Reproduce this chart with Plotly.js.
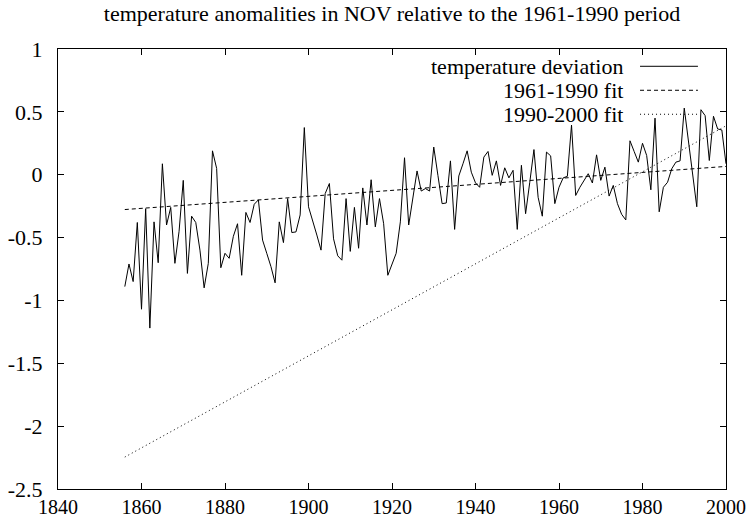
<!DOCTYPE html>
<html>
<head>
<meta charset="utf-8">
<script src="https://cdn.plot.ly/plotly-3.0.1.min.js"></script>
<style>html,body{margin:0;padding:0;background:#fff;}#chart{width:749px;height:519px;}</style>
</head>
<body>
<div id="chart"></div>
<script>
const years = [1856,1857,1858,1859,1860,1861,1862,1863,1864,1865,1866,1867,1868,1869,1870,1871,1872,1873,1874,1875,1876,1877,1878,1879,1880,1881,1882,1883,1884,1885,1886,1887,1888,1889,1890,1891,1892,1893,1894,1895,1896,1897,1898,1899,1900,1901,1902,1903,1904,1905,1906,1907,1908,1909,1910,1911,1912,1913,1914,1915,1916,1917,1918,1919,1920,1921,1922,1923,1924,1925,1926,1927,1928,1929,1930,1931,1932,1933,1934,1935,1936,1937,1938,1939,1940,1941,1942,1943,1944,1945,1946,1947,1948,1949,1950,1951,1952,1953,1954,1955,1956,1957,1958,1959,1960,1961,1962,1963,1964,1965,1966,1967,1968,1969,1970,1971,1972,1973,1974,1975,1976,1977,1978,1979,1980,1981,1982,1983,1984,1985,1986,1987,1988,1989,1990,1991,1992,1993,1994,1995,1996,1997,1998,1999,2000];
const deviation = [-0.89,-0.71,-0.85,-0.38,-1.07,-0.27,-1.22,-0.375,-0.70,0.087,-0.40,-0.26,-0.705,-0.45,-0.045,-0.785,-0.33,-0.38,-0.60,-0.90,-0.705,0.19,0.05,-0.74,-0.625,-0.665,-0.49,-0.39,-0.80,-0.30,-0.38,-0.235,-0.20,-0.52,-0.625,-0.73,-0.86,-0.375,-0.54,-0.19,-0.46,-0.455,-0.32,0.375,-0.255,-0.36,-0.48,-0.60,-0.15,-0.07,-0.51,-0.645,-0.68,-0.19,-0.61,-0.26,-0.585,-0.105,-0.40,-0.04,-0.415,-0.19,-0.39,-0.80,-0.71,-0.625,-0.375,0.135,-0.40,-0.18,0.03,-0.13,-0.11,-0.13,0.22,-0.005,-0.23,-0.225,0.11,-0.435,-0.01,0.087,0.19,0.02,-0.065,-0.10,0.14,0.185,-0.005,0.11,-0.085,0.055,-0.025,0.035,-0.435,0.075,-0.31,-0.06,0.20,-0.18,-0.33,0.18,0.15,-0.23,-0.10,-0.025,-0.013,0.395,-0.165,-0.10,-0.045,0.008,-0.066,0.158,-0.045,0.06,-0.17,-0.085,-0.23,-0.315,-0.36,0.27,0.185,0.10,0.25,0.153,-0.12,0.45,-0.295,-0.10,-0.06,0.047,0.10,0.11,0.53,0.27,0.008,-0.255,0.517,0.47,0.113,0.465,0.364,0.356,0.087];
const fitYears = [1856, 2000];
const fit6190 = [-0.277, 0.066];
const fit9000 = [-2.246, 0.389];
const xTicks = [1840,1860,1880,1900,1920,1940,1960,1980,2000];
const yTicks = [1,0.5,0,-0.5,-1,-1.5,-2,-2.5];
const yTickText = ['1','0.5','0','-0.5','-1','-1.5','-2','-2.5'];
const legendNames = ['temperature deviation','1961-1990 fit','1990-2000 fit'];
const titleText = 'temperature anomalities in NOV relative to the 1961-1990 period';

const FONT = '"Liberation Serif", "Times New Roman", serif';
const dashes = ['solid','4px,3px','1px,3px'];

const traces = [
  {x: years, y: deviation, mode:'lines', line:{color:'#000', width:1}, name: legendNames[0]},
  {x: fitYears, y: fit6190, mode:'lines', line:{color:'#000', width:1, dash:dashes[1]}, name: legendNames[1]},
  {x: fitYears, y: fit9000, mode:'lines', line:{color:'#000', width:1, dash:dashes[2]}, name: legendNames[2]}
];

const rowsY = [0.9607, 0.9062, 0.8517];
const annotations = legendNames.map((n,i)=>({
  text:n, xref:'paper', yref:'paper', x:0.8488, y:rowsY[i], xanchor:'right', yanchor:'middle',
  showarrow:false, font:{family:FONT, size:22, color:'#000'}
}));
const shapes = legendNames.map((n,i)=>({
  type:'line', xref:'paper', yref:'paper', x0:0.8713, x1:0.958, y0:rowsY[i], y1:rowsY[i],
  line:{color:'#000', width:1, dash:dashes[i]}
}));

const axisCommon = {
  showgrid:false, zeroline:false, showline:true, linecolor:'#000', linewidth:1,
  mirror:'allticks', ticks:'inside', ticklen:6, tickcolor:'#000', tickwidth:1
};

const layout = {
  width:749, height:519,
  margin:{l:58, r:23, t:49, b:30},
  paper_bgcolor:'#fff', plot_bgcolor:'#fff',
  showlegend:false,
  title:{text:titleText, font:{family:FONT, size:22, color:'#000'}, x:0.5, xref:'paper', y:0.975, yref:'container', yanchor:'middle'},
  xaxis:Object.assign({}, axisCommon, {range:[1840,2000], tickvals:xTicks, ticktext:xTicks.map(String),
    tickfont:{family:FONT, size:20, color:'#000'}, ticklabelstandoff:0}),
  yaxis:Object.assign({}, axisCommon, {range:[-2.5,1], tickvals:yTicks, ticktext:yTickText, ticklabelstandoff:10,
    tickfont:{family:FONT, size:22, color:'#000'}}),
  annotations: annotations,
  shapes: shapes
};

Plotly.newPlot('chart', traces, layout, {displayModeBar:false, staticPlot:true});
</script>
</body>
</html>
